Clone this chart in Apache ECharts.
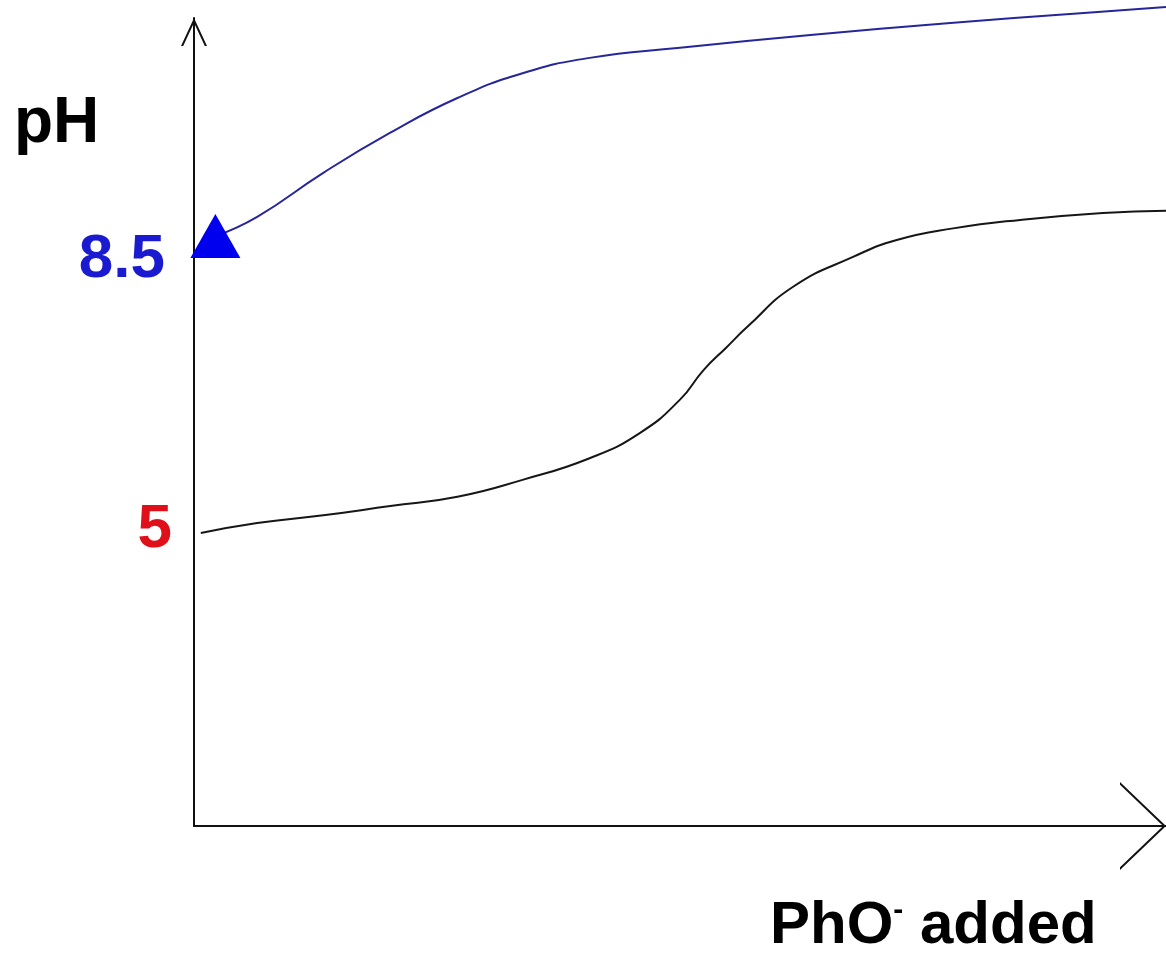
<!DOCTYPE html>
<html>
<head>
<meta charset="utf-8">
<script src="https://cdn.jsdelivr.net/npm/echarts@6/dist/echarts.min.js"></script>
<style>
  html, body { margin: 0; padding: 0; background: #fff; }
  #chart { width: 1166px; height: 957px; }
</style>
</head>
<body>
<div id="chart"></div>
<script>
// 坐标轴上标出的两个 pH 值
const yTickValues = [5, 8.5]
const yTickLabels = ['5', '8.5']

// 加入 PhO- 的量 (0-100) 与 pH，黑色滴定曲线
const titrX = [0.7, 6.5, 13.3, 20.2, 27.1, 33.8, 40.7, 45.9, 50.0, 52.4, 54.8, 56.9, 61.6, 67.8, 72.3, 78.1, 85.0, 93.5, 100]
const titrY = [4.96, 5.09, 5.19, 5.31, 5.43, 5.65, 5.93, 6.26, 6.69, 7.07, 7.37, 7.63, 8.15, 8.54, 8.76, 8.91, 9.02, 9.11, 9.14]

// 蓝色曲线，起点带三角箭头
const blueX = [2.2, 6.5, 13.3, 20.2, 27.1, 33.8, 40.7, 50.0, 63.7, 77.5, 91.2, 100]
const blueY = [8.81, 9.06, 9.63, 10.15, 10.60, 10.92, 11.12, 11.25, 11.42, 11.57, 11.70, 11.78]

const FONT = '"Liberation Sans", Arial, sans-serif'

let chart = echarts.init(document.getElementById('chart'))

let blackData = titrX.map((x, i) => [x, titrY[i]])
let blueData = blueX.map((x, i) => {
  if (i === 0) {
    return {
      value: [x, blueY[i]],
      symbol: 'triangle',
      symbolSize: [50, 44],
      itemStyle: { color: '#0000ee' },
    }
  }
  return [x, blueY[i]]
})

let option = {
  animation: false,
  backgroundColor: '#fff',
  grid: {
    left: 194,
    right: 0,
    top: 18,
    bottom: 131,
    outerBoundsMode: 'none',
  },
  xAxis: {
    type: 'value',
    min: 0,
    max: 100,
    axisLine: {
      onZero: false,
      lineStyle: { color: '#111', width: 2 },
      symbol: ['none', 'path://M0,46 L44,0 L88,46 L85.2,46 L44,2.9 L2.8,46 Z'],
      symbolSize: [88, 46],
      symbolOffset: [0, -23],
    },
    axisTick: { show: false },
    axisLabel: { show: false },
    splitLine: { show: false },
  },
  yAxis: {
    type: 'value',
    min: 1.163,
    max: 11.637,
    axisLine: {
      onZero: false,
      lineStyle: { color: '#111', width: 2 },
      symbol: ['none', 'path://M0,28 L13,0 L26,28 L23.8,28 L13,4.7 L2.2,28 Z'],
      symbolSize: [26, 28],
      symbolOffset: [0, -14],
    },
    axisTick: { show: false },
    splitLine: { show: false },
    axisLabel: {
      customValues: yTickValues,
      margin: 22,
      formatter: (v) => {
        let i = yTickValues.indexOf(v)
        return i === 0 ? '{r|' + yTickLabels[i] + '}' : '{b|' + yTickLabels[i] + '}'
      },
      rich: {
        r: { color: '#e0101a', fontSize: 62, fontWeight: 'bold', fontFamily: FONT },
        b: { color: '#1a1ad0', fontSize: 62, fontWeight: 'bold', fontFamily: FONT, padding: [0, 7, 0, 0] },
      },
    },
  },
  graphic: [
    {
      type: 'text',
      left: 14,
      top: 92,
      style: {
        text: 'pH',
        fill: '#000',
        font: 'bold 64px ' + FONT,
      },
    },
    {
      type: 'text',
      left: 770,
      top: 896,
      style: {
        text: '{a|PhO}{s|-}{a| added}',
        rich: {
          a: { fill: '#000', fontSize: 60, fontWeight: 'bold', fontFamily: FONT, lineHeight: 60 },
          s: { fill: '#000', fontSize: 30, fontWeight: 'bold', fontFamily: FONT, verticalAlign: 'top', lineHeight: 30 },
        },
      },
    },
  ],
  series: [
    {
      type: 'line',
      data: blackData,
      smooth: 0.5,
      symbol: 'none',
      clip: false,
      lineStyle: { color: '#161616', width: 2 },
    },
    {
      type: 'line',
      data: blueData,
      smooth: 0.5,
      symbol: 'none',
      clip: false,
      lineStyle: { color: '#26269a', width: 2 },
    },
  ],
}
chart.setOption(option)
</script>
</body>
</html>
